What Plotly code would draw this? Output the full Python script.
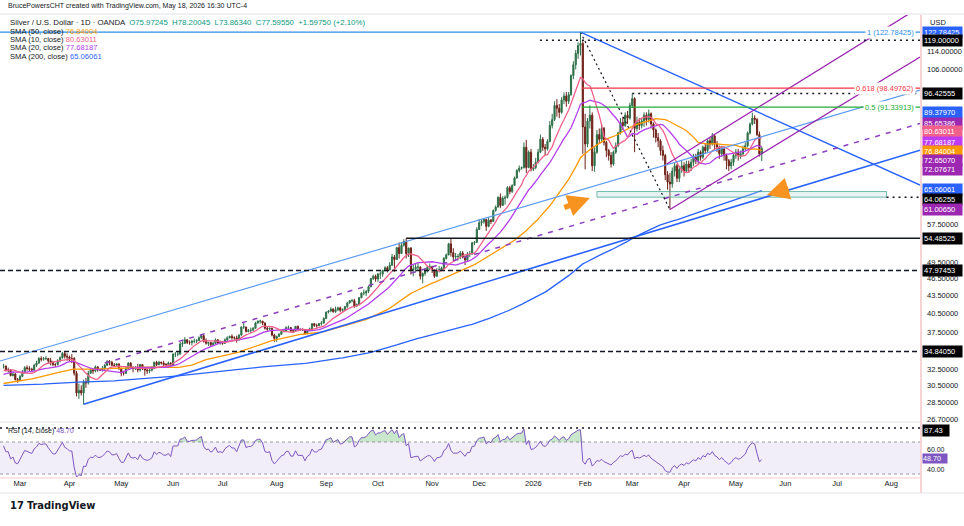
import numpy as np
import pandas as pd
import plotly.graph_objects as go

# ------------------------------------------------------------------ data
# Daily closes before the visible window (May 6 2024 -> Feb 19 2025), only feed the SMAs / RSI
pre_close = [
    27.3, 27.2, 27.5, 28.2, 28.5, 28.3, 29.6, 29.7, 29.9, 31.3,
    32.1, 31.8, 30.5, 30.2, 30.4, 30.8, 32.0, 31.8, 31.4, 30.4,
    30.4, 29.6, 29.9, 31.3, 29.2, 29.6, 29.0, 29.6, 28.9, 29.5,
    29.5, 29.5, 30.1, 30.9, 30.0, 29.7, 29.0, 28.9, 29.1, 29.1,
    29.5, 29.7, 30.5, 30.8, 31.2, 30.8, 30.8, 31.1, 31.3, 30.7,
    30.9, 30.9, 30.2, 29.6, 29.2, 29.2, 29.0, 28.9, 27.9, 28.0,
    27.9, 28.4, 28.9, 28.8, 28.6, 27.3, 27.1, 27.2, 27.5, 27.5,
    28.0, 27.8, 27.9, 28.5, 29.2, 29.6, 29.3, 29.5, 28.9, 29.8,
    29.9, 30.0, 29.5, 29.3, 28.9, 28.5, 28.0, 28.3, 28.8, 28.2,
    28.5, 28.5, 28.8, 29.9, 30.7, 30.8, 30.7, 30.7, 30.6, 31.2,
    31.6, 32.2, 31.8, 31.4, 31.6, 31.2, 31.4, 31.6, 31.9, 32.2,
    31.8, 30.7, 30.9, 31.2, 31.6, 31.5, 31.5, 31.8, 31.9, 33.7,
    34.0, 34.6, 33.9, 33.7, 33.7, 33.8, 34.4, 33.7, 32.7, 32.4,
    32.3, 32.6, 31.2, 31.4, 31.3, 30.8, 30.7, 30.4, 30.2, 30.2,
    31.0, 31.3, 31.0, 30.9, 30.9, 30.4, 30.3, 30.1, 30.1, 30.6,
    30.4, 30.8, 31.2, 31.1, 31.2, 32.1, 32.3, 31.8, 31.1, 30.3,
    30.6, 30.4, 29.4, 29.0, 29.5, 29.7, 29.8, 29.8, 29.8, 29.6,
    29.1, 28.9, 29.3, 29.9, 29.7, 30.2, 30.0, 30.2, 30.2, 30.4,
    29.7, 29.9, 30.6, 30.9, 30.4, 30.7, 30.5, 30.6, 30.3, 30.6,
    30.1, 30.3, 31.0, 31.9, 31.3, 31.6, 32.1, 32.5, 32.1, 31.8,
    31.9, 31.8, 32.0, 32.4, 32.1, 32.7, 32.8, 32.9,
]

# Visible daily bars, Feb 20 2025 -> May 18 2026 (one row = one week)
close = [
    32.9, 32.4,
    32.4, 31.7, 31.9, 31.2, 31.1,
    31.6, 32.1, 32.7, 32.6, 32.5,
    32.4, 33.0, 33.3, 33.9, 33.8,
    33.9, 33.9, 33.6, 33.4, 33.1,
    33.1, 33.6, 34.0, 34.6, 34.2,
    34.1, 33.9, 33.9, 32.0, 29.6,
    29.9, 29.6, 30.9, 30.8, 32.0,
    32.4, 32.3, 32.8, 32.4, 32.4,
    32.6, 33.0, 33.5, 33.4, 33.0,
    33.0, 33.2, 32.6, 32.0, 32.0,
    32.6, 33.3, 32.7, 32.6, 32.7,
    32.4, 33.1, 32.6, 32.4, 32.3,
    32.4, 32.6, 33.4, 33.1, 33.4,
    33.3, 33.1, 33.1, 33.3, 33.0,
    34.5, 34.5, 34.5, 35.9, 36.0,
    36.5, 36.1, 36.1, 36.3, 36.3,
    36.4, 36.8, 37.1, 36.3, 36.0,
    36.1, 35.8, 36.0, 36.5, 36.0,
    36.1, 36.0, 36.5, 36.8, 37.0,
    36.8, 36.8, 36.5, 37.2, 38.4,
    38.4, 37.7, 37.9, 37.9, 38.2,
    39.0, 39.3, 39.3, 39.0, 38.2,
    38.1, 38.2, 37.2, 36.7, 37.0,
    37.3, 37.7, 37.8, 38.3, 38.3,
    37.8, 37.8, 38.5, 38.0, 38.0,
    38.0, 37.4, 37.9, 38.1, 38.9,
    38.6, 38.6, 38.9, 39.0, 39.7,
    40.7, 40.9, 41.2, 40.8, 41.1,
    41.4, 41.0, 41.1, 41.6, 42.2,
    42.6, 42.6, 41.7, 42.0, 43.1,
    43.9, 43.9, 44.2, 45.0, 46.5,
    46.9, 46.4, 47.3, 47.3, 48.0,
    48.5, 48.1, 49.0, 50.6, 50.1,
    52.5, 51.3, 53.0, 53.8, 51.3,
    52.4, 48.0, 48.3, 48.6, 48.6,
    46.9, 47.4, 47.9, 48.6, 48.7,
    48.1, 46.9, 48.0, 48.1, 48.4,
    50.3, 51.0, 53.3, 51.5, 50.6,
    50.7, 50.7, 51.4, 50.6, 50.0,
    51.2, 51.2, 53.5, 53.6, 56.4,
    57.9, 58.2, 58.7, 57.1, 58.5,
    58.2, 60.8, 61.6, 64.0, 62.0,
    63.8, 64.0, 66.5, 65.5, 67.1,
    69.1, 71.2, 71.8, 72.0, 78.0,
    72.0, 76.5, 71.5, 72.0, 73.5,
    76.5, 80.5, 78.0, 77.5, 79.8,
    85.0, 87.0, 92.0, 91.0, 89.5,
    94.0, 95.5, 93.5, 96.0, 103.5,
    108.0, 113.0, 116.5, 117.5, 84.5,
    79.0, 86.5, 88.5, 72.5, 76.5,
    82.0, 80.5, 84.0, 79.5, 77.0,
    75.5, 73.0, 76.5, 78.5, 82.5,
    86.0, 85.0, 88.5, 87.5, 92.0,
    94.5, 84.0, 86.0, 85.0, 86.5,
    88.5, 87.0, 89.0, 85.5, 83.5,
    81.0, 80.0, 77.0, 75.5, 70.0,
    68.0, 67.5, 71.0, 72.5, 69.0,
    71.5, 72.5, 71.0, 73.0, 72.0,
    73.5, 75.0, 74.0, 76.5, 75.0,
    78.0, 77.0, 80.0, 79.0, 81.5,
    79.0, 78.0, 76.0, 77.5, 75.5,
    74.0, 72.5, 73.5, 75.5, 76.5,
    75.5, 76.0, 77.5, 78.5, 82.5,
    85.5, 87.5, 87.0, 82.0, 75.97245,
    77.5955,
]
high = [
    33.2, 33.0,
    32.7, 32.5, 32.1, 32.0, 31.4,
    31.8, 32.4, 32.9, 33.0, 32.9,
    32.7, 33.2, 33.6, 34.1, 34.2,
    34.1, 34.2, 34.0, 34.0, 33.6,
    33.3, 33.8, 34.2, 34.8, 34.8,
    34.6, 34.3, 34.5, 34.1, 32.3,
    30.7, 30.5, 31.2, 31.4, 32.3,
    32.6, 32.6, 33.0, 32.9, 32.6,
    32.9, 33.2, 33.7, 33.7, 33.6,
    33.3, 33.3, 33.2, 32.7, 32.3,
    32.8, 33.4, 33.4, 32.9, 32.9,
    33.2, 33.2, 33.1, 32.7, 32.7,
    32.6, 32.9, 33.5, 33.6, 33.6,
    33.5, 33.6, 33.3, 33.5, 33.4,
    34.6, 34.8, 34.8, 36.2, 36.3,
    36.9, 36.6, 36.4, 36.5, 36.7,
    36.6, 37.0, 37.3, 37.2, 36.7,
    36.2, 36.2, 36.2, 36.7, 36.6,
    36.4, 36.3, 36.7, 37.0, 37.1,
    37.3, 37.0, 37.1, 37.3, 38.5,
    39.1, 38.4, 38.1, 38.3, 38.4,
    39.2, 39.4, 39.5, 39.3, 39.1,
    38.4, 38.3, 38.3, 37.4, 37.1,
    37.5, 37.8, 38.0, 38.5, 38.6,
    38.4, 38.0, 38.5, 38.6, 38.2,
    38.2, 38.1, 38.0, 38.3, 39.0,
    39.0, 38.9, 39.0, 39.3, 39.9,
    40.8, 41.0, 41.5, 41.3, 41.6,
    41.6, 41.6, 41.3, 41.7, 42.4,
    42.7, 42.9, 42.9, 42.1, 43.2,
    44.0, 44.5, 44.4, 45.2, 46.6,
    47.2, 47.2, 47.5, 47.8, 48.1,
    48.8, 48.8, 49.6, 51.2, 51.0,
    52.6, 53.6, 53.6, 54.3, 54.48525,
    52.5, 52.6, 49.1, 49.4, 49.4,
    48.8, 47.6, 48.5, 48.9, 49.3,
    48.9, 48.2, 48.4, 48.8, 48.7,
    50.6, 51.3, 53.5, 54.4, 52.4,
    51.4, 51.2, 51.8, 51.8, 50.9,
    51.6, 51.8, 53.7, 53.9, 56.9,
    58.8, 58.8, 58.9, 58.7, 59.2,
    58.8, 61.0, 62.0, 64.3, 65.0,
    64.3, 64.5, 66.9, 67.0, 67.4,
    69.5, 71.5, 72.6, 72.3, 79.5,
    80.3, 77.0, 77.5, 73.0, 74.8,
    77.5, 82.0, 81.2, 79.0, 80.5,
    86.5, 89.0, 93.5, 94.3, 92.5,
    95.0, 96.8, 97.0, 97.0, 104.0,
    109.5, 114.5, 118.0, 122.78425, 118.5,
    89.0, 87.5, 92.0, 89.5, 78.0,
    83.5, 84.0, 85.5, 84.5, 80.0,
    77.5, 76.5, 77.0, 79.5, 83.0,
    87.5, 88.0, 89.5, 90.0, 93.0,
    96.42555, 95.0, 88.0, 87.5, 87.5,
    89.5, 89.5, 90.5, 89.5, 86.0,
    84.0, 82.5, 80.5, 78.5, 76.0,
    71.0, 70.5, 72.0, 73.5, 73.0,
    72.5, 74.0, 73.5, 74.0, 74.0,
    74.5, 76.0, 76.0, 77.5, 77.0,
    78.5, 79.0, 80.5, 81.0, 82.5,
    82.0, 80.0, 78.5, 78.5, 78.0,
    76.0, 74.5, 74.5, 76.0, 77.5,
    77.5, 77.0, 78.5, 79.5, 83.0,
    86.0, 89.3797, 88.5, 87.5, 83.0,
    78.20045,
]
low = [
    32.6, 32.2,
    32.1, 31.6, 31.6, 31.1, 30.8,
    31.0, 31.5, 32.0, 32.3, 32.2,
    32.1, 32.3, 32.8, 33.2, 33.5,
    33.6, 33.7, 33.3, 33.0, 32.9,
    32.8, 33.0, 33.4, 33.9, 33.9,
    33.6, 33.5, 33.3, 31.7, 29.2,
    28.9, 29.3, 28.3, 30.2, 30.6,
    31.9, 31.9, 32.1, 32.2, 32.3,
    32.2, 32.3, 32.9, 33.0, 32.9,
    32.8, 32.8, 32.4, 31.6, 31.7,
    31.9, 32.4, 32.5, 32.1, 32.4,
    32.1, 32.2, 32.4, 31.7, 31.9,
    32.0, 32.2, 32.5, 32.9, 33.0,
    33.1, 32.9, 32.8, 32.9, 32.9,
    33.0, 34.1, 34.2, 34.4, 35.5,
    35.9, 35.9, 35.8, 35.7, 36.0,
    36.0, 36.3, 36.6, 36.1, 35.8,
    35.6, 35.5, 35.6, 35.9, 35.9,
    35.8, 35.8, 35.9, 36.2, 36.7,
    36.5, 36.5, 36.1, 36.4, 37.1,
    38.1, 37.6, 37.6, 37.5, 37.9,
    38.1, 38.9, 38.9, 38.7, 38.0,
    37.8, 37.9, 37.0, 36.2, 36.2,
    36.9, 37.2, 37.6, 37.7, 38.0,
    37.6, 37.5, 37.8, 37.9, 37.8,
    37.8, 37.3, 37.3, 37.8, 37.9,
    38.4, 38.3, 38.5, 38.6, 38.9,
    39.6, 40.5, 40.7, 40.6, 40.6,
    40.9, 40.7, 40.7, 40.9, 41.4,
    42.1, 42.3, 41.4, 41.6, 41.8,
    43.0, 43.5, 43.4, 43.9, 44.9,
    46.2, 45.9, 45.9, 46.4, 46.8,
    47.8, 47.6, 48.0, 48.8, 47.7,
    50.0, 50.3, 51.2, 52.7, 50.3,
    50.6, 47.2, 46.9, 47.6, 48.0,
    46.3, 45.6, 47.0, 47.6, 48.0,
    47.5, 46.6, 46.8, 47.6, 47.9,
    48.3, 50.1, 51.0, 50.7, 49.8,
    50.0, 49.9, 50.2, 50.3, 49.0,
    49.7, 50.6, 51.1, 53.0, 53.5,
    56.3, 57.2, 57.7, 56.1, 56.9,
    57.6, 58.1, 60.5, 61.5, 61.4,
    61.9, 62.2, 63.7, 64.8, 65.1,
    67.0, 68.9, 70.6, 71.4, 71.7,
    70.5, 71.8, 70.9, 71.0, 71.5,
    73.2, 76.2, 76.9, 75.6, 77.0,
    79.5, 84.0, 86.5, 88.0, 87.5,
    89.0, 92.5, 91.5, 92.5, 95.5,
    102.0, 106.0, 110.5, 112.0, 76.0,
    71.5, 78.0, 84.0, 71.0, 70.8,
    76.0, 79.0, 79.5, 78.5, 75.0,
    74.0, 72.0, 72.5, 76.0, 78.0,
    82.0, 83.5, 84.5, 85.5, 87.0,
    91.0, 76.5, 83.0, 83.5, 84.0,
    84.5, 85.0, 86.0, 84.0, 81.0,
    79.5, 78.0, 75.5, 74.0, 68.5,
    66.0, 61.0065, 66.5, 69.5, 68.0,
    68.0, 70.5, 69.5, 70.5, 70.5,
    71.0, 72.5, 73.0, 73.0, 74.0,
    74.5, 76.0, 76.5, 77.5, 78.5,
    77.5, 76.5, 74.5, 75.0, 74.0,
    71.5, 71.0, 71.5, 72.5, 74.5,
    74.0, 74.5, 75.5, 77.0, 78.0,
    82.0, 85.0, 85.5, 81.5, 75.2,
    73.8634,
]

# Chart drawings, anchored as (bar number counted from Mar 3 2025, price)
trend_lines = [
    # (start, end, colour, width, dash)
    ((-8.5, 33.57), (382.2, 97.7), "#5b9bf0", 1.2, "solid"),        # upper thin channel line
    ((27, 28.3), (382.2, 77.1), "#2962ff", 1.6, "solid"),            # rising support from Apr-2025 low
    ((238, 122.78425), (382.2, 67.2), "#2962ff", 1.3, "solid"),      # falling line from the top
    ((36, 33.3), (382.2, 85.65386), "#8e3fc0", 1.5, "5px,6px"),      # purple dashed mid line
    ((276, 61.0065), (382.2, 111.3), "#9c27b0", 1.3, "solid"),       # rising purple channel, lower
    ((274.7, 73.0), (382.2, 135.6), "#9c27b0", 1.3, "solid"),        # rising purple channel, upper
    ((238, 122.78425), (276, 61.0065), "#131722", 1.2, "2px,3px"),   # dotted swing line
]
h_lines = [
    # (price, from bar, to bar, colour, width, dash)
    (122.78425, -8.5, 382.2, "#2c8ee8", 1.3, "solid"),
    (119.0, 220.8, 382.2, "#131722", 1.5, "2px,4px"),
    (98.49762, 238.5, 382.2, "#f23645", 1.3, "solid"),
    (96.42555, 260, 382.2, "#131722", 1.5, "2px,4px"),
    (91.33913, 238.5, 382.2, "#22ab34", 1.3, "solid"),
    (64.06255, 368, 382.2, "#131722", 1.5, "2px,4px"),
    (54.48525, 164, 382.2, "#131722", 1.3, "solid"),
    (47.97453, -8.5, 382.2, "#131722", 1.5, "5px,3px"),
    (34.8405, -8.5, 382.2, "#131722", 1.5, "5px,3px"),
]
zone = dict(x0=245, x1=368, p0=64.06255, p1=65.5)
arrows = [  # tip (bar, price), tail offset in px
    (242.0, 63.85, -27, 10),
    (317.2, 64.6, 23, -7),
]
fib_labels = [(122.78425, "1 (122.78425)", "#2c8ee8"),
              (98.49762, "0.618 (98.49762)", "#f23645"),
              (91.33913, "0.5 (91.33913)", "#22ab34")]

price_ticks = [114, 106, 57.5, 49.5, 46.5, 43.5, 40.5, 37.5, 32.5, 30.5, 28.5, 26.7]
price_boxes = [  # value, colour, vertical nudge (px) so the tags do not overlap
    (122.78425, "#2962ff", 0), (119.0, "#000000", 0), (96.42555, "#000000", 0),
    (89.3797, "#2962ff", 0), (85.65386, "#9c27b0", 0), (80.63011, "#f0608a", 7),
    (77.68187, "#bf3cf5", 6), (76.84004, "#ff9800", 0), (72.6507, "#9c27b0", 5),
    (72.07671, "#9c27b0", -2), (65.06061, "#2962ff", 4), (64.06255, "#000000", -2),
    (61.0065, "#9c27b0", 0), (54.48525, "#000000", 0), (47.97453, "#000000", 0),
    (34.8405, "#000000", 0),
]

# ------------------------------------------------------------------ derived series
all_close = pd.Series(pre_close + close, dtype=float)
N = len(all_close)
dates = pd.bdate_range(end="2026-05-18", periods=N)
i0 = int(np.searchsorted(dates, pd.Timestamp("2025-03-03")))
xi = np.arange(N) - i0
nv = len(close)
vis = slice(N - nv, N)
xv = xi[vis]
cl = np.array(close, dtype=float)
op = all_close.shift(1).values[vis]
hi = np.maximum.reduce([np.array(high, dtype=float), op, cl])
lo = np.minimum.reduce([np.array(low, dtype=float), op, cl])

sma = {n: all_close.rolling(n).mean().values[vis] for n in (10, 20, 50, 200)}
delta = all_close.diff()
gain = delta.clip(lower=0).ewm(alpha=1 / 14, adjust=False).mean()
loss = (-delta.clip(upper=0)).ewm(alpha=1 / 14, adjust=False).mean()
rsi = (100 - 100 / (1 + gain / loss)).values[vis]

# ------------------------------------------------------------------ layout constants
W, H = 964, 526
X0, X1 = -8.5, 382.2
AX = 920                      # px where the price scale begins
P_TOP, P_BOT = 15, 421        # price pane px
R_TOP, R_BOT = 423, 477       # RSI pane px
def px(v): return v / W
def py(v): return 1 - v / H

FONT = "Liberation Sans, Arial, sans-serif"
UP, DN = "#2f7049", "#6e2117"
SMA_COL = {10: "#f0608a", 20: "#b43ef0", 50: "#ff9800", 200: "#2962ff"}

fig = go.Figure()
fig.add_trace(go.Candlestick(
    x=xv, open=op, high=hi, low=lo, close=cl,
    increasing=dict(line=dict(color=UP, width=1), fillcolor=UP),
    decreasing=dict(line=dict(color=DN, width=1), fillcolor=DN),
    whiskerwidth=0, showlegend=False, hoverinfo="skip", xaxis="x", yaxis="y"))

for n in (200, 50, 20, 10):
    fig.add_trace(go.Scatter(x=xv, y=sma[n], mode="lines", line=dict(color=SMA_COL[n], width=1.3),
                             showlegend=False, hoverinfo="skip", xaxis="x", yaxis="y"))

# zone box
fig.add_trace(go.Scatter(
    x=[zone["x0"], zone["x1"], zone["x1"], zone["x0"], zone["x0"]],
    y=[zone["p0"], zone["p0"], zone["p1"], zone["p1"], zone["p0"]],
    mode="lines", fill="toself", fillcolor="rgba(178,223,219,0.30)",
    line=dict(color="rgba(60,160,140,0.7)", width=1),
    showlegend=False, hoverinfo="skip", xaxis="x", yaxis="y"))

for (a, b, c, w, d) in trend_lines:
    fig.add_trace(go.Scatter(x=[a[0], b[0]], y=[a[1], b[1]], mode="lines",
                             line=dict(color=c, width=w, dash=d),
                             showlegend=False, hoverinfo="skip", xaxis="x", yaxis="y"))
for (p, a, b, c, w, d) in h_lines:
    fig.add_trace(go.Scatter(x=[a, b], y=[p, p], mode="lines",
                             line=dict(color=c, width=w, dash=d),
                             showlegend=False, hoverinfo="skip", xaxis="x", yaxis="y"))

# ---------------- RSI pane
fig.add_trace(go.Scatter(x=[X0, X1], y=[30, 30], mode="lines",
                         line=dict(color="#9598a1", width=1, dash="3px,3px"),
                         showlegend=False, hoverinfo="skip", xaxis="x2", yaxis="y2"))
fig.add_trace(go.Scatter(x=[X0, X1], y=[70, 70], mode="lines", fill="tonexty",
                         fillcolor="rgba(126,87,194,0.10)",
                         line=dict(color="#9598a1", width=1, dash="3px,3px"),
                         showlegend=False, hoverinfo="skip", xaxis="x2", yaxis="y2"))
fig.add_trace(go.Scatter(x=xv, y=np.full(len(xv), 70.0), mode="lines", line=dict(width=0),
                         showlegend=False, hoverinfo="skip", xaxis="x2", yaxis="y2"))
fig.add_trace(go.Scatter(x=xv, y=np.maximum(rsi, 70), mode="lines", fill="tonexty",
                         fillcolor="rgba(76,175,80,0.30)", line=dict(width=0),
                         showlegend=False, hoverinfo="skip", xaxis="x2", yaxis="y2"))
fig.add_trace(go.Scatter(x=xv, y=rsi, mode="lines", line=dict(color="#7e57c2", width=1),
                         showlegend=False, hoverinfo="skip", xaxis="x2", yaxis="y2"))
fig.add_trace(go.Scatter(x=[X0, X1], y=[87.43, 87.43], mode="lines",
                         line=dict(color="#131722", width=1.5, dash="2px,4px"),
                         showlegend=False, hoverinfo="skip", xaxis="x2", yaxis="y2"))

# ---------------- month ticks
ext = pd.bdate_range(start=dates[0], periods=N + 90)
tick_x, tick_t = [], []
for k in range(1, len(ext)):
    if ext[k].month != ext[k - 1].month:
        t = k - i0
        if X0 <= t <= X1:
            tick_x.append(t)
            tick_t.append("2026" if ext[k].month == 1 else ext[k].strftime("%b"))

ann = []
# header + legend
ann.append(dict(x=px(6), y=py(6), text="BrucePowersCHT created with TradingView.com, May 18, 2026 16:30 UTC-4",
                font=dict(size=7, color="#131722")))
ann.append(dict(x=px(8), y=py(22.5),
                text="Silver / U.S. Dollar · 1D · OANDA  <span style='color:#089981'>O75.97245  H78.20045  "
                     "L73.86340  C77.59550  +1.59750 (+2.10%)</span>",
                font=dict(size=7.8, color="#131722")))
legend_rows = [("SMA (50, close)", "76.84004", 50), ("SMA (10, close)", "80.63011", 10),
               ("SMA (20, close)", "77.68187", 20), ("SMA (200, close)", "65.06061", 200)]
for k, (lab, val, n) in enumerate(legend_rows):
    ann.append(dict(x=px(8), y=py(31 + 8.4 * k),
                    text=f"{lab} <span style='color:{SMA_COL[n]}'>{val}</span>",
                    font=dict(size=7.6, color="#131722")))
ann.append(dict(x=px(6), y=py(431), text="RSI (14, close) <span style='color:#7e57c2'>48.70</span>",
                font=dict(size=7, color="#131722")))
for a in ann:
    a.update(xref="paper", yref="paper", xanchor="left", yanchor="middle", showarrow=False)

# fib labels
for p, t, c in fib_labels:
    ann.append(dict(x=px(916), y=np.log10(p), xref="paper", yref="y", xanchor="right", yanchor="middle",
                    text=t, showarrow=False, bgcolor="white", font=dict(size=7.5, color=c)))

# price scale
ann.append(dict(x=px(928), y=py(23), xref="paper", yref="paper", xanchor="left", yanchor="middle",
                text="USD", showarrow=False, font=dict(size=7.5, color="#131722")))
for v in price_ticks:
    ann.append(dict(x=px(925), y=np.log10(v), xref="paper", yref="y", xanchor="left", yanchor="middle",
                    text=f"{v:.5f}", showarrow=False, font=dict(size=7.5, color="#131722")))
for v, c, sh in price_boxes:
    ann.append(dict(x=px(922), y=np.log10(v), xref="paper", yref="y", xanchor="left", yanchor="middle",
                    yshift=sh, text=f"{v:.5f}", showarrow=False, bgcolor=c, borderpad=1,
                    width=37, align="left", font=dict(size=7.5, color="white")))
# RSI scale
for v, sh in ((60, 1), (40, -3)):
    ann.append(dict(x=px(925), y=v, xref="paper", yref="y2", xanchor="left", yanchor="middle", yshift=sh,
                    text=f"{v:.2f}", showarrow=False, font=dict(size=7, color="#131722")))
ann.append(dict(x=px(922), y=87.43, xref="paper", yref="y2", xanchor="left", yanchor="middle", yshift=-2,
                text="87.43", showarrow=False, bgcolor="#000000", borderpad=1, width=24, align="left",
                font=dict(size=7.5, color="white")))
ann.append(dict(x=px(922), y=48.70, xref="paper", yref="y2", xanchor="left", yanchor="middle", yshift=1,
                text="48.70", showarrow=False, bgcolor="#7e57c2", borderpad=0, width=24, align="left",
                font=dict(size=7.2, color="white")))
# orange arrows
for bx, p, dx, dy in arrows:
    ann.append(dict(x=bx, y=np.log10(p), xref="x", yref="y", ax=dx, ay=dy, showarrow=True,
                    arrowhead=2, arrowsize=0.8, arrowwidth=5.5, arrowcolor="#f7931e", text=""))
# logo
ann.append(dict(x=px(8), y=py(505), xref="paper", yref="paper", xanchor="left", yanchor="middle",
                text="<b>17</b> <b>TradingView</b>", showarrow=False,
                font=dict(size=11, color="#131722", family="DejaVu Sans Condensed, DejaVu Sans")))

shapes = [
    dict(type="line", xref="paper", yref="paper", x0=0, x1=px(AX), y0=py(422), y1=py(422),
         line=dict(color="#e0e3eb", width=1)),
    dict(type="line", xref="paper", yref="paper", x0=0, x1=px(AX), y0=py(478), y1=py(478),
         line=dict(color="#f5c9c9", width=1)),
    dict(type="line", xref="paper", yref="paper", x0=px(AX + 1), x1=px(AX + 1), y0=py(15), y1=py(493),
         line=dict(color="#f5a9a9", width=1)),
    dict(type="line", xref="paper", yref="paper", x0=0, x1=1, y0=py(493), y1=py(493),
         line=dict(color="#e0e3eb", width=1)),
    dict(type="line", xref="paper", yref="paper", x0=0, x1=1, y0=py(14), y1=py(14),
         line=dict(color="#e0e3eb", width=1)),
]

fig.update_layout(
    width=W, height=H, margin=dict(l=0, r=0, t=0, b=0),
    paper_bgcolor="white", plot_bgcolor="white", showlegend=False,
    font=dict(family=FONT, color="#131722"),
    xaxis=dict(domain=[0, px(AX)], range=[X0, X1], showticklabels=False, showgrid=False,
               zeroline=False, rangeslider=dict(visible=False), anchor="y"),
    yaxis=dict(domain=[py(P_BOT), py(P_TOP)], type="log", range=[np.log10(26.5), np.log10(131.4)],
               showticklabels=False, showgrid=False, zeroline=False, anchor="x"),
    xaxis2=dict(domain=[0, px(AX)], range=[X0, X1], matches="x", anchor="y2", showgrid=False,
                zeroline=False, tickmode="array", tickvals=tick_x, ticktext=tick_t, ticks="",
                tickfont=dict(size=7.5, color="#131722")),
    yaxis2=dict(domain=[py(R_BOT), py(R_TOP)], range=[26.25, 93.75], showticklabels=False,
                showgrid=False, zeroline=False, anchor="x2"),
    annotations=ann, shapes=shapes,
)

fig.write_html("out.html")
